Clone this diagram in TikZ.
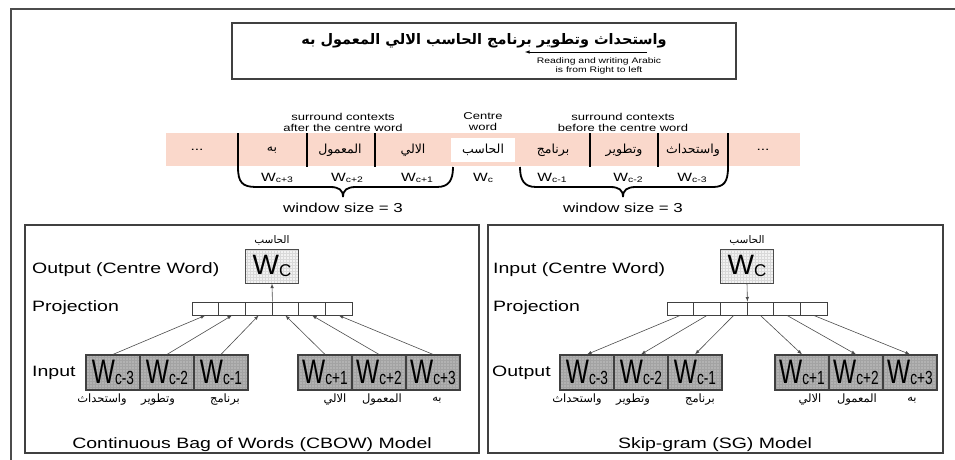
\documentclass[tikz,border=0pt]{standalone}
\usepackage{fontspec}
\usepackage{graphicx}
\setmainfont{Liberation Sans}[FakeStretch=1.3]
\newfontfamily\plainsans{Liberation Sans}
\newfontfamily\arabicfont[Script=Arabic]{DejaVu Sans}
\TeXXeTstate=1
\usetikzlibrary{decorations.pathreplacing}
\tikzset{>=latex}
\definecolor{stripbg}{RGB}{250,216,203}

% word labels: big W in the grey boxes, small ones under the strip
\newcommand{\wbig}[1]{\scalebox{0.72}[1]{\plainsans\fontsize{34}{34}\selectfont W\raisebox{-1pt}{\fontsize{19}{19}\selectfont #1}}}
\newcommand{\wcent}{{\plainsans\fontsize{28}{28}\selectfont W\raisebox{-2pt}{\fontsize{17}{17}\selectfont C}}}
\newcommand{\wsub}[1]{W{\fontsize{8}{8}\selectfont\raisebox{-1pt}{#1}}}
\newcommand{\artxt}[1]{\beginR #1\endR}

\tikzset{
  lbl/.style={anchor=west, inner sep=0pt, font=\fontsize{15}{18}\selectfont},
  ttl/.style={inner sep=0pt, font=\fontsize{15}{18}\selectfont},
  ar/.style={inner sep=0pt, font=\arabicfont\fontsize{11.5}{14}\selectfont},
  cell/.style={draw=black!75, fill=white, minimum width=26.67pt, minimum height=13pt, inner sep=0pt, line width=0.8pt},
  gridfill/.style={path picture={\draw[#1, very thin, step=3pt] (path picture bounding box.south west) grid (path picture bounding box.north east);}},
  wbox/.style={draw=black!75, fill=black!30, gridfill=black!36, minimum width=54pt, minimum height=35pt, inner sep=0pt, line width=1.2pt},
  cbox/.style={draw=black!70, fill=black!5, gridfill=black!15, minimum width=53pt, minimum height=34pt, inner sep=0pt, line width=1pt},
  link/.style={black!70, line width=0.6pt},
  panel/.style={draw=black!75, line width=1.2pt},
  bar/.style={line width=1.8pt},
  brc/.style={line width=1.8pt},
}

\begin{document}
\begin{tikzpicture}[x=1pt,y=-1pt]
\useasboundingbox (0,0) rectangle (955,460);
% outer frame, only top and left edges
\draw[black!70, line width=1.5pt] (955,9) -- (11,9) -- (11,460);

% sentence at the top
\draw[panel] (232,23) rectangle (736,79);
\node[font=\arabicfont\bfseries\fontsize{14.5}{16}\selectfont] (sent) at (484,41) {\artxt{واستحداث وتطوير برنامج الحاسب الالي المعمول به}};
\coordinate (rl0) at (647,52);
\coordinate (rl1) at (525,52);
\draw[->, line width=0.6pt] (rl0) -- (rl1);
\node[font=\fontsize{8}{9}\selectfont, align=center] (rtl) at (599,66) {Reading and writing Arabic\\is from Right to left};

% the word strip
\fill[stripbg] (166,133) rectangle (800,166);
\node[fill=white, minimum width=64pt, minimum height=24pt, inner sep=0pt] (cw) at (483,150) {};
\node[ar, font=\arabicfont\fontsize{12.5}{14}\selectfont] (cwt) at (483,150) {\artxt{الحاسب}};
\foreach \x/\w/\n in {272/به/a3, 340/المعمول/a2, 413/الالي/a1, 553/برنامج/b1, 624/وتطوير/b2, 693/واستحداث/b3}
  \node[ar, font=\arabicfont\fontsize{12.5}{14}\selectfont] (s\n) at (\x,150) {\artxt{\w}};
\node[font=\fontsize{12}{14}\selectfont] (dl) at (197,150) {...};
\node[font=\fontsize{12}{14}\selectfont] (dr) at (763,150) {...};
\foreach \x in {238,307,375,590,658,728}
  \draw[bar] (\x,133) -- (\x,167);

\node[font=\fontsize{10}{11}\selectfont, align=center] (aft) at (343,122) {surround contexts\\after the centre word};
\node[font=\fontsize{10}{11}\selectfont, align=center] (cen) at (483,122) {Centre\\word};
\node[font=\fontsize{10}{11}\selectfont, align=center] (bef) at (623,122) {surround contexts\\before the centre word};

\foreach \x/\s/\n in {277/c+3/a3, 347/c+2/a2, 417/c+1/a1, 483/c/c, 552/c-1/b1, 628/c-2/b2, 692/c-3/b3}
  \node[font=\fontsize{12}{14}\selectfont] (w\n) at (\x,178) {\wsub{\s}};

% braces under the two windows
\draw[brc] (238,167) .. controls (238,182) and (242,187) .. (256,187) -- (330,187)
  .. controls (339,187) and (343,190) .. (343,197) .. controls (343,190) and (347,187) .. (356,187)
  -- (437,187) .. controls (449,187) and (453,180) .. (453,167);
\draw[brc] (520,167) .. controls (520,180) and (524,187) .. (536,187) -- (610,187)
  .. controls (619,187) and (623,190) .. (623,197) .. controls (623,190) and (627,187) .. (636,187)
  -- (713,187) .. controls (724,187) and (728,182) .. (728,167);
\node[font=\fontsize{13}{15}\selectfont] (win1) at (343,208) {window size = 3};
\node[font=\fontsize{13}{15}\selectfont] (win2) at (623,208) {window size = 3};

% CBOW
\draw[panel] (25,225) rectangle (479,453);
\node[ar, font=\arabicfont\fontsize{10.5}{12}\selectfont] (cbt) at (272,240) {\artxt{الحاسب}};
\node[cbox] (cwc) at (272,266) {\wcent};
\node[lbl] (cout) at (32,270) {Output (Centre Word)};
\node[lbl] (cproj) at (32,308) {Projection};
\node[lbl] (cin) at (32,373) {Input};
\foreach \i in {1,...,6}
  \node[cell] (cp\i) at ({192+26.67*(\i-0.5)},308.5) {};
\foreach \x/\s/\n in {113/c-3/1, 167/c-2/2, 221/c-1/3, 325/c+1/4, 379/c+2/5, 433/c+3/6}
  \node[wbox] (ci\n) at (\x,372.5) {\wbig{\s}};
\foreach \n in {1,...,6}
  \draw[link,->] (ci\n.north) -- (cp\n.south);
\draw[link,->] (cp3.north east) -- (cwc.south);
\foreach \x/\w/\n in {102/واستحداث/1, 158/وتطوير/2, 225/برنامج/3, 335/الالي/4, 382/المعمول/5, 437/به/6}
  \node[ar] (ca\n) at (\x,400) {\artxt{\w}};
\node[ttl] (ctitle) at (252,445) {Continuous Bag of Words (CBOW) Model};

% Skip-gram
\draw[panel] (488,225) rectangle (943,453);
\node[ar, font=\arabicfont\fontsize{10.5}{12}\selectfont] (sgt) at (747,240) {\artxt{الحاسب}};
\node[cbox] (swc) at (747,266) {\wcent};
\node[lbl] (sin) at (493,270) {Input (Centre Word)};
\node[lbl] (sproj) at (493,308) {Projection};
\node[lbl] (sout) at (492,373) {Output};
\foreach \i in {1,...,6}
  \node[cell] (sp\i) at ({667+26.67*(\i-0.5)},308.5) {};
\foreach \x/\s/\n in {587/c-3/1, 641/c-2/2, 695/c-1/3, 802/c+1/4, 856/c+2/5, 910/c+3/6}
  \node[wbox] (so\n) at (\x,372.5) {\wbig{\s}};
\foreach \n in {1,...,6}
  \draw[link,->] (sp\n.south) -- (so\n.north);
\draw[link,->] (swc.south) -- (sp3.north east);
\foreach \x/\w/\n in {577/واستحداث/1, 633/وتطوير/2, 700/برنامج/3, 810/الالي/4, 857/المعمول/5, 912/به/6}
  \node[ar] (sa\n) at (\x,400) {\artxt{\w}};
\node[ttl] (stitle) at (715,445) {Skip-gram (SG) Model};
\end{tikzpicture}
\end{document}
